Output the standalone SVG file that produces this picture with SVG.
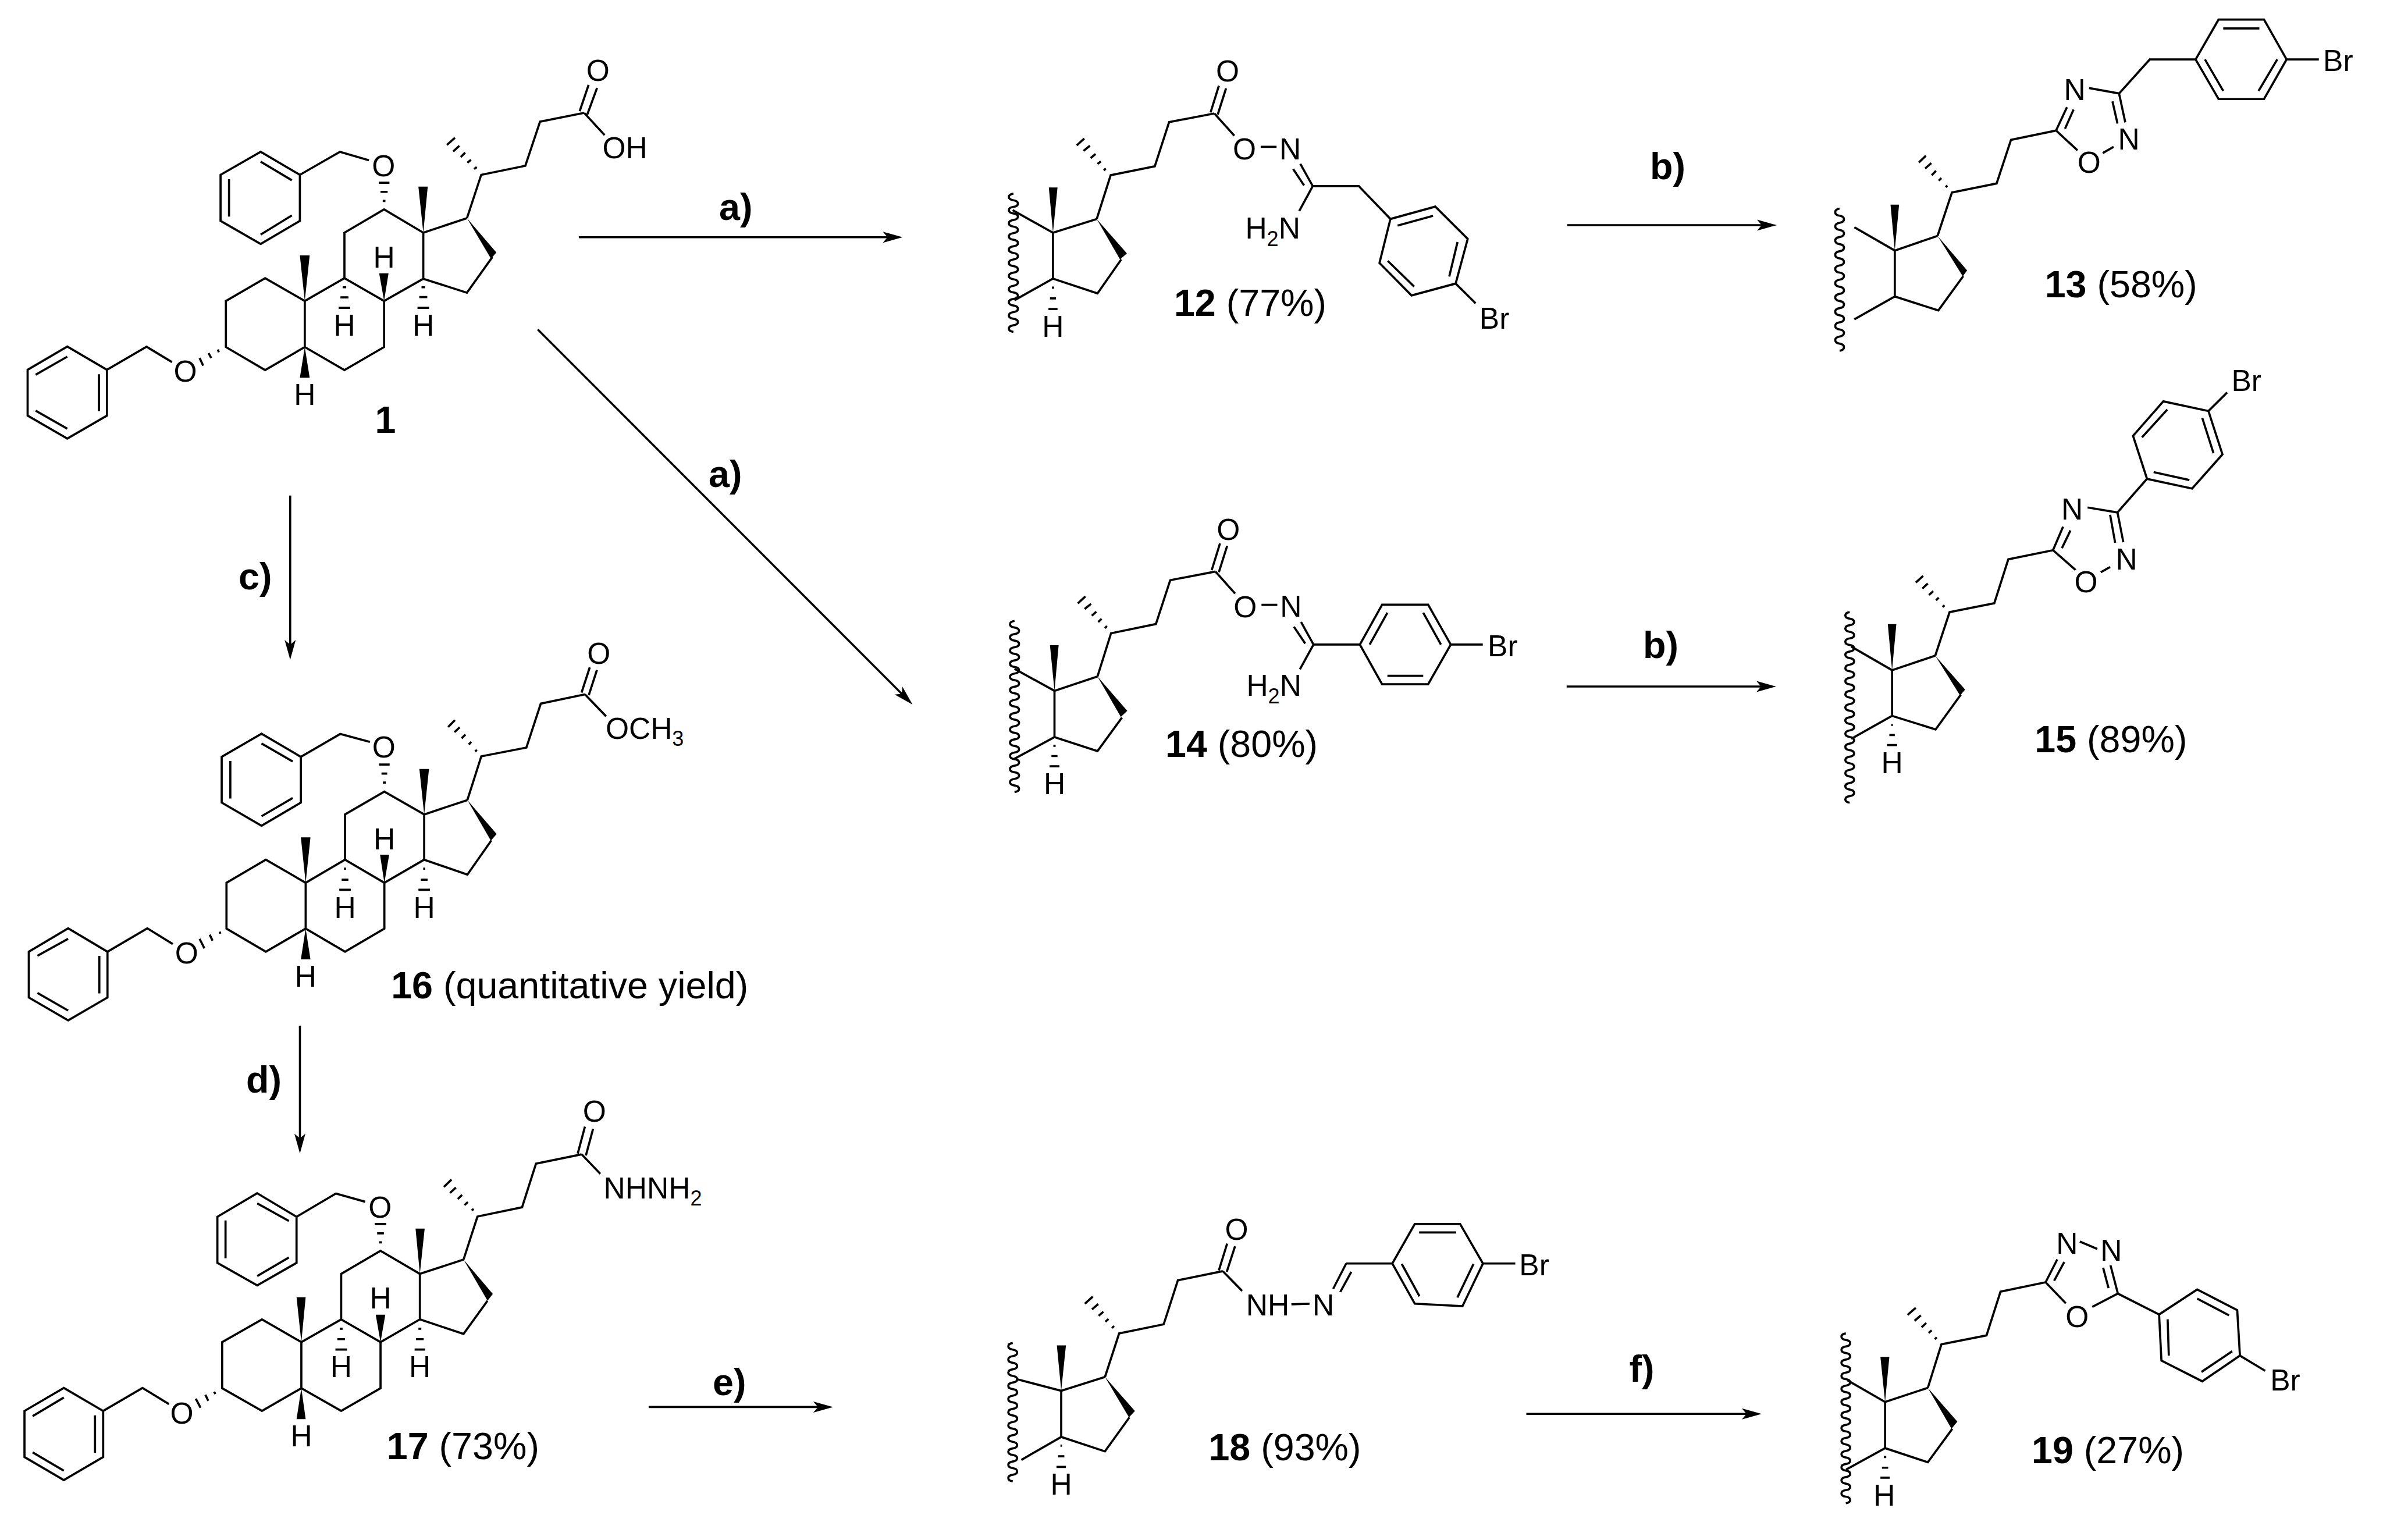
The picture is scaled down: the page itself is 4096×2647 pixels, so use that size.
<svg xmlns="http://www.w3.org/2000/svg" width="4096" height="2647" viewBox="0 0 4096 2647">
<style>
.b{fill:none;stroke:#000;stroke-width:3.7;vector-effect:non-scaling-stroke;stroke-linejoin:miter;stroke-linecap:butt}
.w{fill:#000;stroke:none}
.c{stroke:#000;stroke-width:3.6;fill:none;marker-end:url(#ah)}
text{font-family:"Liberation Sans",Arial,sans-serif;fill:#000}
.a{font-size:51.5px}
.m{text-anchor:middle}
.l{font-size:64.6px}
.n{font-weight:700}
.s{font-size:36px}
</style>
<defs>
<marker id="ah" markerUnits="userSpaceOnUse" markerWidth="40" markerHeight="24" refX="26" refY="12" orient="auto"><path d="M36,12L2,2.5L10,12L2,21.5Z" fill="#000"/></marker>
</defs>
<rect width="4096" height="2647" fill="#fff"/>

<g id="connectors">
<line class="c" x1="994.9" y1="407.8" x2="1541.5" y2="407.8"/>
<line class="c" x1="924.3" y1="566.3" x2="1561.4" y2="1203.9"/>
<line class="c" x1="2693.7" y1="387" x2="3044" y2="387"/>
<line class="c" x1="2692.8" y1="1180" x2="3043" y2="1180"/>
<line class="c" x1="498.8" y1="851.7" x2="498.8" y2="1124"/>
<line class="c" x1="515.5" y1="1763" x2="515.5" y2="1972.6"/>
<line class="c" x1="1115" y1="2418.4" x2="1422" y2="2418.4"/>
<line class="c" x1="2623.5" y1="2430.2" x2="3018" y2="2430.2"/>
<text class="l n" x="1236" y="378">a)</text>
<text class="l n" x="1218" y="837">a)</text>
<text class="l n" x="2836" y="307.6">b)</text>
<text class="l n" x="2824" y="1131.3">b)</text>
<text class="l n" x="410" y="1013">c)</text>
<text class="l n" x="423" y="1878">d)</text>
<text class="l n" x="1225" y="2398">e)</text>
<text class="l n" x="2800.6" y="2374.7">f)</text>
</g>

<g id="mol-1">
<g transform="translate(0,55.43) scale(.76587,.47131)">
<path class="b" d="M151,1146L240,1231L240,1398L151,1482L62,1398L62,1231Z M80,1249L151,1183 M222,1247L222,1382 M80,1380L151,1446 M240,1231L329,1147L386,1203
M489,1157L491,1167 M468,1170L474,1188 M448,1188L456,1216
M507,1148L507,980L595,897L684,980L684,1148L595,1232Z M684,980L773,897L862,980L862,1148L773,1232L684,1148 M773,897L773,731L862,646L950,731L950,899L862,980 M950,731L1048,678 M1105,820L1048,950L950,899
M769,930H777 M764,967H782 M760,1005H786 M946,930H954 M941,966H959 M937,1005H963 M859,615H865 M854,582H870 M850,549H874
M585,436L673,520L673,688L585,772L495,688L495,520Z M585,472L655,540 M514,536L514,672 M585,738L655,668 M673,520L763,436L828,467
M1048,678L1080,520L1179,487L1212,326L1311,294 M1301,288L1321,192 M1318,300L1340,203 M1311,294L1357,375
M1003,411L1021,385 M1017,435L1031,414 M1034,455L1044,439 M1049,476L1057,465 M1064,499L1070,492"/>
<path class="w" d="M1048,678L1114,803L1102,826Z M950,731L939,563L960,563Z M684,980L673,814L695,814Z M862,980L851,879L872,879Z M684,1148L673,1260L695,1260Z"/>
</g>
<text class="a m" x="318.6" y="656.3">O</text>
<text class="a m" x="659.4" y="302.9">O</text>
<text class="a m" x="660.2" y="459.8">H</text>
<text class="a m" x="592" y="576.7">H</text>
<text class="a m" x="727.6" y="576.7">H</text>
<text class="a m" x="523.9" y="695.5">H</text>
<text class="a m" x="1027.8" y="139.3">O</text>
<text class="a" x="1035.4" y="272.2">OH</text>
<text class="l n m" x="662.5" y="743.5">1</text>
</g>

<g id="mol-16">
<g transform="translate(0,1062.3) scale(.82479,.44186)">
<path class="b" d="M142,1207L224,1298L224,1476L142,1565L60,1476L60,1298Z M78,1314L142,1248 M207,1314L207,1460 M78,1458L142,1527 M224,1298L307,1207L360,1268
M458,1220L459,1228 M437,1232L443,1255 M416,1248L426,1285
M472,1208L472,1030L554,940L637,1030L637,1208L554,1298Z M637,1030L719,940L801,1030L801,1208L719,1298L637,1208 M719,940L719,764L801,675L884,764L884,940L801,1030 M884,764L974,708 M1024,865L974,998L884,940
M717,975H721 M712,1018H726 M707,1057H731 M882,975H886 M877,1018H891 M872,1057H896 M798,640H804 M795,605H807 M790,570H812
M545,450L627,540L627,718L545,808L462,718L462,540Z M545,488L610,558 M480,556L480,702 M545,771L610,700 M627,540L709,451L771,482
M974,708L1003,538L1097,504L1127,333L1219,297 M1212,290L1229,192 M1227,300L1244,202 M1219,297L1263,382
M934,424L948,397 M947,444L958,425 M962,468L970,453 M977,492L982,482 M990,519L994,513"/>
<path class="w" d="M974,708L1035,840L1023,866Z M884,764L874,587L894,587Z M637,1030L627,853L647,853Z M801,1030L792,921L811,921Z M637,1208L627,1328L647,1328Z"/>
</g>
<text class="a m" x="320.8" y="1655.7">O</text>
<text class="a m" x="660.7" y="1460">H</text>
<text class="a m" x="593" y="1578">H</text>
<text class="a m" x="729.1" y="1578">H</text>
<text class="a m" x="525.4" y="1695.5">H</text>
<text class="a m" x="659.8" y="1302.2">O</text>
<text class="a m" x="1029.3" y="1140.5">O</text>
<text class="a" x="1040.9" y="1270">OCH<tspan class="s" dy="12">3</tspan></text>
<text class="l" x="672.2" y="1716.3"><tspan class="n">16</tspan> (quantitative yield)</text>
</g>

<g id="mol-17">
<g transform="translate(0,1875.2) scale(.82479,.47131)">
<path class="b" d="M133,1083L215,1167L215,1335L133,1419L51,1335L51,1167Z M68,1186L133,1118 M198,1183L198,1320 M68,1318L133,1385 M215,1167L297,1083L352,1142
M446,1097L449,1105 M428,1108L434,1130 M408,1122L418,1155
M463,1084L463,916L546,833L628,916L628,1084L546,1167Z M628,916L711,833L793,916L793,1084L711,1167L628,1084 M711,833L711,667L793,583L875,667L875,833L793,916 M875,667L966,615 M1016,765L966,886L875,833
M708,867H714 M703,905H719 M699,943H723 M872,867H878 M867,905H883 M864,943H886 M790,552H796 M786,519H800 M781,485H805
M536,373L618,459L618,627L536,709L453,627L453,459Z M536,410L602,474 M470,472L470,610 M536,675L602,607 M618,459L700,374L761,404
M966,615L995,458L1088,424L1117,265L1212,231 M1204,228L1219,130 M1221,235L1236,138 M1212,231L1251,302
M925,350L941,323 M938,372L950,352 M954,394L963,379 M968,416L975,405 M983,436L987,430"/>
<path class="w" d="M966,615L1027,740L1016,765Z M875,667L866,502L885,502Z M628,916L618,752L637,752Z M793,916L783,816L803,816Z M628,1084L618,1197L637,1197Z"/>
</g>
<text class="a m" x="312.6" y="2446.9">O</text>
<text class="a m" x="654.1" y="2249.4">H</text>
<text class="a m" x="586.4" y="2367.2">H</text>
<text class="a m" x="721.7" y="2367.2">H</text>
<text class="a m" x="518" y="2485.5">H</text>
<text class="a m" x="653.2" y="2093">O</text>
<text class="a m" x="1021.9" y="1928">O</text>
<text class="a" x="1037.6" y="2060">NHNH<tspan class="s" dy="12">2</tspan></text>
<text class="l" x="664.8" y="2507.7"><tspan class="n">17</tspan> (73%)</text>
</g>

<g id="mol-12">
<g transform="translate(1662.8,55.43) scale(.64805,.35348)">
<path class="b" d="M122,785c-16,4 -16,28 0,32s16,28 0,32s-16,28 0,32s16,28 0,32s-16,28 0,32s16,28 0,32s-16,28 0,32s16,28 0,32s-16,28 0,32s16,28 0,32s-16,28 0,32s16,28 0,32s-16,28 0,32s16,28 0,32s-16,28 0,32s16,28 0,32s-16,28 0,32s16,28 0,32s-16,28 0,32s16,28 0,32s-16,28 0,32"/>
<path class="b" d="M120,865L227,975L343,908 M227,975L227,1198L345,1270L408,1105 M227,1198L125,1303
M224,1242H230 M219,1294H235 M215,1346H239
M343,908L380,695L497,652L535,437L655,395 M645,390L667,260 M664,400L686,273 M655,395L708,503
M290,550L310,517 M308,577L325,552 M327,612L340,592 M345,640L354,628 M362,672L367,662
M778,557L820,557 M883,640L916,748 M864,665L893,745 M916,748L880,870 M916,748L1038,748L1122,908
M1122,908L1241,848L1327,1005L1295,1222L1178,1280L1093,1122Z M1141,940L1235,893 M1300,1020L1278,1188 M1185,1237L1115,1112 M1295,1222L1348,1318"/>
<path class="w" d="M343,908L423,1075L405,1105Z M227,975L216,755L239,755Z"/>
</g>
<text class="a m" x="1809.9" y="578.6">H</text>
<text class="a m" x="2110" y="140.3">O</text>
<text class="a m" x="2139.1" y="273.9">O</text>
<text class="a m" x="2217.5" y="273.9">N</text>
<text class="a" x="2140.4" y="410">H<tspan class="s" dy="13">2</tspan><tspan dy="-13">N</tspan></text>
<text class="a" x="2542.8" y="564.5">Br</text>
<text class="l" x="2017.9" y="543.2"><tspan class="n">12</tspan> (77%)</text>
</g>

<g id="mol-13">
<g transform="translate(3048.4,0) scale(.66808,.40061)">
<path class="b" d="M170,895c-15,4 -15,26.500 0,30.500s15,26.500 0,30.500s-15,26.500 0,30.500s15,26.500 0,30.500s-15,26.500 0,30.500s15,26.500 0,30.500s-15,26.500 0,30.500s15,26.500 0,30.500s-15,26.500 0,30.500s15,26.500 0,30.500s-15,26.500 0,30.500s15,26.500 0,30.500s-15,26.500 0,30.500s15,26.500 0,30.500s-15,26.500 0,30.500s15,26.500 0,30.500s-15,26.500 0,30.500s15,26.500 0,30.500s-15,26.500 0,30.500s15,26.500 0,30.500"/>
<path class="b" d="M208,975L312,1075L422,1012 M312,1075L312,1272L424,1332L488,1185 M312,1272L208,1370
M422,1012L459,826L574,787L611,600L727,560
M374,697L392,668 M390,723L406,700 M407,752L418,733 M425,775L432,764 M443,803L447,796
M727,560L755,460 M750,552L772,470 M812,378L889,401 M889,401L905,525 M872,435L885,530 M875,630L847,657 M727,560L782,645
M889,401L968,255L1086,255
M1086,255L1145,84L1262,84L1320,255L1262,425L1145,425Z M1157,122L1250,122 M1296,255L1248,390 M1110,255L1157,390 M1320,255L1403,255"/>
<path class="w" d="M422,1012L498,1160L487,1186Z M312,1075L301,878L323,878Z"/>
</g>
<text class="a m" x="3566.2" y="172.3">N</text>
<text class="a m" x="3659" y="257.2">N</text>
<text class="a m" x="3590.9" y="297.3">O</text>
<text class="a" x="3993.1" y="121.8">Br</text>
<text class="l" x="3514.7" y="510.8"><tspan class="n">13</tspan> (58%)</text>
</g>

<g id="mol-14">
<g transform="translate(1662.8,849.87) scale(.64805,.35348)">
<path class="b" d="M125,615c-16,4 -16,28 0,32s16,28 0,32s-16,28 0,32s16,28 0,32s-16,28 0,32s16,28 0,32s-16,28 0,32s16,28 0,32s-16,28 0,32s16,28 0,32s-16,28 0,32s16,28 0,32s-16,28 0,32s16,28 0,32s-16,28 0,32s16,28 0,32s-16,28 0,32s16,28 0,32s-16,28 0,32s16,28 0,32s-16,28 0,32s16,28 0,32s-16,28 0,32s16,28 0,32s-16,28 0,32s16,28 0,32"/>
<path class="b" d="M125,848L231,955L345,885 M231,955L231,1180L345,1248L410,1085 M231,1180L125,1285
M228,1222H234 M223,1272H239 M218,1322H244
M345,885L381,675L500,630L538,417L658,375 M648,368L670,238 M667,378L689,250 M658,375L710,482
M293,530L313,496 M311,557L328,532 M330,590L342,570 M347,620L356,605 M365,650L370,640
M780,537L822,537 M885,620L918,730 M866,643L896,725 M918,730L882,850 M918,730L1041,730
M1041,730L1100,536L1222,536L1282,730L1222,923L1100,923Z M1067,730L1114,575 M1256,730L1209,575 M1114,882L1209,882 M1282,730L1367,730"/>
<path class="w" d="M345,885L424,1052L407,1082Z M231,955L219,733L242,733Z"/>
</g>
<text class="a m" x="1812.5" y="1365.2">H</text>
<text class="a m" x="2111.3" y="927.6">O</text>
<text class="a m" x="2140.4" y="1061.3">O</text>
<text class="a m" x="2218.8" y="1060.2">N</text>
<text class="a" x="2142.4" y="1196.3">H<tspan class="s" dy="13">2</tspan><tspan dy="-13">N</tspan></text>
<text class="a" x="2557.1" y="1128">Br</text>
<text class="l" x="2003" y="1300.6"><tspan class="n">14</tspan> (80%)</text>
</g>

<g id="mol-15">
<g transform="translate(3048.4,618.9) scale(.66808,.50666)">
<path class="b" d="M196,855c-15,3 -15,19.300 0,22.300s15,19.300 0,22.300s-15,19.300 0,22.300s15,19.300 0,22.300s-15,19.300 0,22.300s15,19.300 0,22.300s-15,19.300 0,22.300s15,19.300 0,22.300s-15,19.300 0,22.300s15,19.300 0,22.300s-15,19.300 0,22.300s15,19.300 0,22.300s-15,19.300 0,22.300s15,19.300 0,22.300s-15,19.300 0,22.300s15,19.300 0,22.300s-15,19.300 0,22.300s15,19.300 0,22.300s-15,19.300 0,22.300s15,19.300 0,22.300s-15,19.300 0,22.300s15,19.300 0,22.300s-15,19.300 0,22.300s15,19.300 0,22.300s-15,19.300 0,22.300s15,19.300 0,22.300s-15,19.300 0,22.300s15,19.300 0,22.300s-15,19.300 0,22.300"/>
<path class="b" d="M200,972L305,1052L416,1003 M305,1052L305,1207L417,1253L482,1135 M305,1207L200,1285
M303,1238H307 M298,1272H312 M292,1306H318
M416,1003L453,855L568,825L604,676L719,645
M366,755L385,732 M383,775L397,758 M400,797L411,784 M418,815L425,806 M435,838L440,832
M719,645L745,565 M742,638L764,578 M808,500L885,517 M885,517L900,618 M866,525L879,620 M866,702L842,720 M719,645L777,712
M885,517L961,403 M961,403L925,257L1003,140L1119,173L1155,320L1077,436Z M1013,168L948,262 M1103,196L1132,316 M978,380L1070,407 M1119,173L1167,110"/>
<path class="w" d="M416,1003L493,1118L480,1138Z M305,1052L294,896L316,896Z"/>
</g>
<text class="a m" x="3252.2" y="1329.2">H</text>
<text class="a m" x="3561.5" y="893">N</text>
<text class="a m" x="3655" y="978.6">N</text>
<text class="a m" x="3585.5" y="1017.6">O</text>
<text class="a" x="3835.4" y="672.1">Br</text>
<text class="l" x="3497.3" y="1292.8"><tspan class="n">15</tspan> (89%)</text>
</g>

<g id="mol-18">
<g transform="translate(1662.8,2060) scale(.67751,.36527)">
<path class="b" d="M115,680c-15,4 -15,27 0,31s15,27 0,31s-15,27 0,31s15,27 0,31s-15,27 0,31s15,27 0,31s-15,27 0,31s15,27 0,31s-15,27 0,31s15,27 0,31s-15,27 0,31s15,27 0,31s-15,27 0,31s15,27 0,31s-15,27 0,31s15,27 0,31s-15,27 0,31s15,27 0,31s-15,27 0,31s15,27 0,31s-15,27 0,31"/>
<path class="b" d="M125,850L238,905L349,840 M238,905L238,1122L349,1190L411,1030 M238,1122L137,1230
M236,1163H240 M230,1213H246 M226,1263H250
M349,840L385,635L498,592L534,385L648,342 M638,338L659,212 M658,345L679,225 M648,342L697,435
M298,495L318,462 M316,522L332,497 M333,552L345,533 M350,580L358,567 M367,610L372,600
M822,498L868,495 M928,425L961,306 M946,440L974,345 M961,306L1078,306
M1078,306L1135,120L1250,120L1308,306L1256,507L1135,495Z M1146,160L1240,160 M1284,308L1243,466 M1102,308L1147,460 M1308,306L1390,306"/>
<path class="w" d="M349,840L425,1000L410,1030Z M238,905L227,691L250,691Z"/>
</g>
<text class="a m" x="1824" y="2568.5">H</text>
<text class="a m" x="2125.5" y="2130.9">O</text>
<text class="a" x="2141.8" y="2261.3">NH</text>
<text class="a m" x="2274.6" y="2261.3">N</text>
<text class="a" x="2611.3" y="2192.2">Br</text>
<text class="l" x="2077.4" y="2510.4"><tspan class="n">18</tspan> (93%)</text>
</g>

<g id="mol-19">
<g transform="translate(3048.4,2060) scale(.66808,.3741)">
<path class="b" d="M186,620c-15,4 -15,26 0,30s15,26 0,30s-15,26 0,30s15,26 0,30s-15,26 0,30s15,26 0,30s-15,26 0,30s15,26 0,30s-15,26 0,30s15,26 0,30s-15,26 0,30s15,26 0,30s-15,26 0,30s15,26 0,30s-15,26 0,30s15,26 0,30s-15,26 0,30s15,26 0,30s-15,26 0,30s15,26 0,30s-15,26 0,30s15,26 0,30s-15,26 0,30s15,26 0,30s-15,26 0,30s15,26 0,30"/>
<path class="b" d="M190,835L287,935L397,870 M287,935L287,1147L397,1212L460,1058 M287,1147L187,1245
M284,1188H290 M279,1237H295 M275,1283H299
M397,870L432,670L548,629L584,428L700,385
M345,535L366,502 M363,562L379,537 M381,592L393,572 M399,618L407,606 M415,647L420,638
M700,385L730,280 M722,378L748,292 M788,198L833,232 M886,437L867,307 M862,412L848,318 M886,437L820,498 M700,385L752,482
M886,437L992,533 M992,533L1090,418L1193,513L1200,722L1103,840L998,745Z M1090,460L1172,537 M1014,555L1017,722 M1180,702L1101,797 M1200,722L1265,792"/>
<path class="w" d="M397,870L473,1025L458,1058Z M287,935L275,728L298,728Z"/>
</g>
<text class="a m" x="3238.8" y="2588.2">H</text>
<text class="a m" x="3552.8" y="2155.4">N</text>
<text class="a m" x="3628.9" y="2166.6">N</text>
<text class="a m" x="3570.2" y="2280.7">O</text>
<text class="a" x="3902.2" y="2390">Br</text>
<text class="l" x="3492" y="2515.3"><tspan class="n">19</tspan> (27%)</text>
</g>
</svg>
